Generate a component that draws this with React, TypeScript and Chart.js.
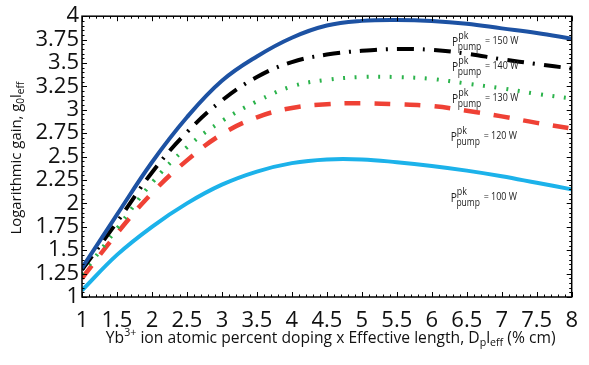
import React, { useEffect, useRef } from "react";
import { Chart, registerables } from "chart.js";

Chart.register(...registerables);

// ---- data ----
const xValues = [1, 1.5, 2, 2.5, 3, 3.5, 4, 4.5, 5, 5.5, 6, 6.5, 7, 7.5, 8];
const gain150 = [1.31, 1.88, 2.44, 2.92, 3.31, 3.57, 3.77, 3.9, 3.95, 3.96, 3.95, 3.92, 3.87, 3.82, 3.76];
const gain140 = [1.29, 1.8, 2.33, 2.76, 3.1, 3.35, 3.51, 3.59, 3.63, 3.65, 3.64, 3.6, 3.54, 3.49, 3.44];
const gain130 = [1.24, 1.73, 2.22, 2.6, 2.88, 3.09, 3.25, 3.32, 3.35, 3.35, 3.33, 3.28, 3.23, 3.17, 3.12];
const gain120 = [1.2, 1.68, 2.11, 2.46, 2.74, 2.92, 3.02, 3.06, 3.07, 3.06, 3.04, 2.99, 2.93, 2.86, 2.8];
const gain100 = [1.07, 1.45, 1.75, 2.0, 2.2, 2.34, 2.43, 2.47, 2.47, 2.44, 2.4, 2.35, 2.29, 2.22, 2.15];

const powerLabels = ["150 W", "140 W", "130 W", "120 W", "100 W"];
const labelX = [6.29, 6.29, 6.29, 6.27, 6.27];
const labelY = [3.68, 3.41, 3.07, 2.67, 2.02];

const xTickValues = [1, 1.5, 2, 2.5, 3, 3.5, 4, 4.5, 5, 5.5, 6, 6.5, 7, 7.5, 8];
const yTickValues = [1, 1.25, 1.5, 1.75, 2, 2.25, 2.5, 2.75, 3, 3.25, 3.5, 3.75, 4];

const FONT = "'Open Sans', 'DejaVu Sans', sans-serif";

type Part = { t: string; size: number; dy: number };

function drawRich(ctx: CanvasRenderingContext2D, parts: Part[], x: number, y: number, fam: string) {
  let cx = x;
  for (const p of parts) {
    ctx.font = `${p.size}px ${fam}`;
    ctx.fillText(p.t, cx, y + p.dy);
    cx += ctx.measureText(p.t).width;
  }
  return cx - x;
}
function measureRich(ctx: CanvasRenderingContext2D, parts: Part[], fam: string) {
  let w = 0;
  for (const p of parts) {
    ctx.font = `${p.size}px ${fam}`;
    w += ctx.measureText(p.t).width;
  }
  return w;
}

const framePlugin = {
  id: "frameTicks",
  afterDatasetsDraw(chart: any) {
    const ctx: CanvasRenderingContext2D = chart.ctx;
    const { left, right, top, bottom } = chart.chartArea;
    const xs = chart.scales.x;
    const ys = chart.scales.y;
    ctx.save();
    ctx.strokeStyle = "#000";
    ctx.lineWidth = 1.5;
    ctx.strokeRect(left, top, right - left, bottom - top);
    ctx.lineWidth = 1;
    ctx.beginPath();
    for (let i = 0; i <= 70; i++) {
      const v = 1 + i * 0.1;
      const px = Math.round(xs.getPixelForValue(v)) + 0.5;
      const len = i % 5 === 0 ? 5 : 2.5;
      ctx.moveTo(px, bottom);
      ctx.lineTo(px, bottom - len);
      ctx.moveTo(px, top);
      ctx.lineTo(px, top + len);
    }
    for (let i = 0; i <= 60; i++) {
      const v = 1 + i * 0.05;
      const py = Math.round(ys.getPixelForValue(v)) + 0.5;
      const len = i % 5 === 0 ? 5 : 2.5;
      ctx.moveTo(left, py);
      ctx.lineTo(left + len, py);
      ctx.moveTo(right, py);
      ctx.lineTo(right - len, py);
    }
    ctx.stroke();

    // annotations P^pk_pump = ... W (slightly condensed)
    ctx.fillStyle = "#222";
    ctx.textBaseline = "alphabetic";
    ctx.textAlign = "left";
    for (let i = 0; i < powerLabels.length; i++) {
      const px = xs.getPixelForValue(labelX[i]);
      const py = ys.getPixelForValue(labelY[i]);
      ctx.save();
      ctx.translate(px, py);
      ctx.scale(0.85, 1);
      ctx.font = `12px ${FONT}`;
      ctx.fillText("P", 0, 0);
      const pw = ctx.measureText("P").width;
      ctx.font = `10.5px ${FONT}`;
      ctx.fillText("pk", pw, -7);
      const pkw = ctx.measureText("pk").width;
      ctx.font = `10px ${FONT}`;
      ctx.fillText("pump", pw - 0.5, 4);
      const pumpw = ctx.measureText("pump").width;
      ctx.font = `10.5px ${FONT}`;
      ctx.fillText("= " + powerLabels[i], pw + Math.max(pkw, pumpw) + 4, -2);
      ctx.restore();
    }

    // axis titles
    ctx.fillStyle = "#111";
    const xParts: Part[] = [
      { t: "Yb", size: 14, dy: 0 },
      { t: "3+", size: 9.5, dy: -6 },
      { t: " ion atomic percent doping x Effective length, D", size: 14, dy: 0 },
      { t: "p", size: 9.5, dy: 3 },
      { t: "l", size: 14, dy: 0 },
      { t: "eff", size: 9.5, dy: 3 },
      { t: " (% cm)", size: 14, dy: 0 },
    ];
    const xw = measureRich(ctx, xParts, FONT);
    const xTarget = 450;
    const k1 = xTarget / xw;
    const xScaled = xParts.map((p) => ({ t: p.t, size: p.size * k1, dy: p.dy * k1 }));
    const xc = (left + right) / 2 + 4;
    drawRich(ctx, xScaled, xc - xTarget / 2, 343, FONT);

    const yParts: Part[] = [
      { t: "Logarithmic gain, g", size: 14, dy: 0 },
      { t: "0", size: 9.5, dy: 3 },
      { t: "l", size: 14, dy: 0 },
      { t: "eff", size: 9.5, dy: 3 },
    ];
    const yw = measureRich(ctx, yParts, FONT);
    const yTarget = 153;
    const k2 = yTarget / yw;
    const yScaled = yParts.map((p) => ({ t: p.t, size: p.size * k2, dy: p.dy * k2 }));
    ctx.translate(21, 158);
    ctx.rotate(-Math.PI / 2);
    drawRich(ctx, yScaled, -yTarget / 2, 0, FONT);
    ctx.restore();
  },
};

export default function App() {
  const ref = useRef<HTMLCanvasElement | null>(null);
  useEffect(() => {
    document.body.style.margin = "0";
    const canvas = ref.current;
    if (!canvas) return;
    const mk = (data: number[]) => xValues.map((x, i) => ({ x, y: data[i] }));
    const common = {
      pointRadius: 0,
      borderCapStyle: "butt" as const,
      tension: 0.4,
      fill: false,
    };
    const chart = new Chart(canvas, {
      type: "line",
      data: {
        datasets: [
          { ...common, label: "150 W", data: mk(gain150), borderColor: "#1d52a3", borderWidth: 4 },
          { ...common, label: "140 W", data: mk(gain140), borderColor: "#000000", borderWidth: 4, borderDash: [17, 9, 2, 9] },
          { ...common, label: "130 W", data: mk(gain130), borderColor: "#2bb34b", borderWidth: 4, borderDash: [2, 9.7] },
          { ...common, label: "120 W", data: mk(gain120), borderColor: "#ef4135", borderWidth: 4.5, borderDash: [16, 14] },
          { ...common, label: "100 W", data: mk(gain100), borderColor: "#1cb2ea", borderWidth: 4 },
        ],
      },
      options: {
        animation: false,
        responsive: false,
        maintainAspectRatio: false,
        devicePixelRatio: 1,
        layout: { padding: { left: 0, right: 11, top: 15, bottom: 0 } },
        plugins: { legend: { display: false }, tooltip: { enabled: false }, title: { display: false } },
        scales: {
          x: {
            type: "linear",
            min: 1,
            max: 8,
            grid: { display: false, drawTicks: false },
            border: { display: false },
            afterBuildTicks: (s: any) => {
              s.ticks = xTickValues.map((v) => ({ value: v }));
            },
            afterFit: (s: any) => {
              s.height = 68;
            },
            ticks: {
              autoSkip: false,
              maxRotation: 0,
              padding: 11,
              color: "#111",
              font: { family: FONT, size: 22 },
              callback: (v: any) => String(v),
            },
          },
          y: {
            type: "linear",
            min: 1,
            max: 4,
            grid: { display: false, drawTicks: false },
            border: { display: false },
            afterBuildTicks: (s: any) => {
              s.ticks = yTickValues.map((v) => ({ value: v }));
            },
            afterFit: (s: any) => {
              s.width = 82;
            },
            ticks: {
              autoSkip: false,
              padding: 3,
              color: "#111",
              font: { family: FONT, size: 22 },
              callback: (v: any) => String(v),
            },
          },
        },
      },
      plugins: [framePlugin],
    });
    return () => chart.destroy();
  }, []);
  return (
    <div style={{ width: 589, height: 365, background: "#fff" }}>
      <canvas ref={ref} width={589} height={365} style={{ width: 589, height: 365, display: "block" }} />
    </div>
  );
}
